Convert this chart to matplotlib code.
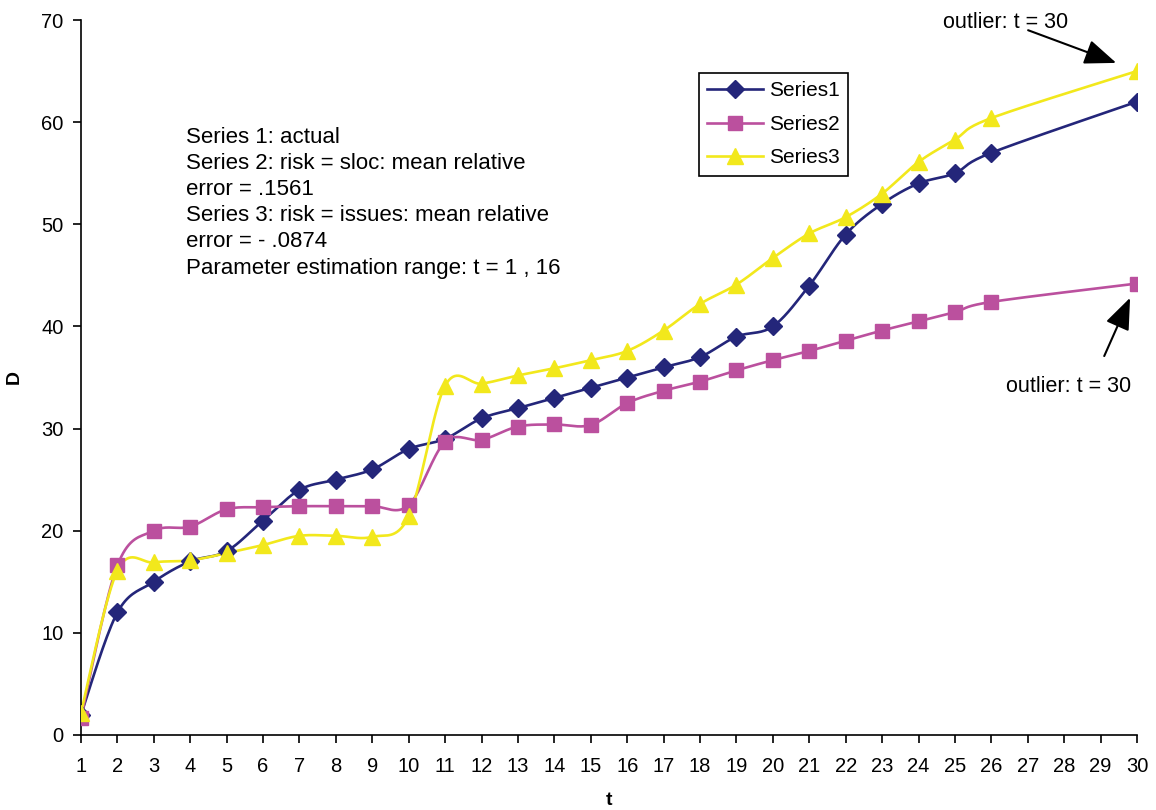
import numpy as np
import matplotlib
matplotlib.use("Agg")
import matplotlib.pyplot as plt

plt.rcParams['font.family'] = ['Liberation Sans', 'DejaVu Sans']

# data (no values at t = 27..29)
t = [1, 2, 3, 4, 5, 6, 7, 8, 9, 10, 11, 12, 13, 14, 15, 16, 17, 18, 19, 20,
     21, 22, 23, 24, 25, 26, 30]
series1 = [2, 12, 15, 17, 18, 21, 24, 25, 26, 28, 29, 31, 32, 33, 34, 35, 36, 37, 39, 40,
           44, 49, 52, 54, 55, 57, 62]
series2 = [1.7, 16.6, 20.0, 20.4, 22.1, 22.3, 22.4, 22.4, 22.4, 22.5, 28.7, 28.9, 30.2, 30.4, 30.35, 32.5,
           33.7, 34.6, 35.7, 36.7, 37.6, 38.6, 39.6, 40.5, 41.4, 42.4, 44.2]
series3 = [2.2, 16.1, 16.9, 17.1, 17.8, 18.6, 19.5, 19.5, 19.4, 21.4, 34.2, 34.4, 35.2, 35.9, 36.7, 37.6,
           39.6, 42.2, 44.1, 46.7, 49.1, 50.7, 53.0, 56.1, 58.3, 60.4, 65.0]
labels = ['Series1', 'Series2', 'Series3']
colors = ['#24267a', '#bb509e', '#f2e81c']
markers = ['D', 's', '^']
msizes = [9, 10, 11]

note = ("Series 1: actual\n"
        "Series 2: risk = sloc: mean relative\n"
        "error = .1561\n"
        "Series 3: risk = issues: mean relative\n"
        "error = - .0874\n"
        "Parameter estimation range: t = 1 , 16")

# pixel aspect of one x unit vs one y unit, so the smoothing looks like Excel's
XS = 36.4 / 10.21


def smooth(x, y, n=20):
    # Catmull-Rom style bezier through the points
    p = np.column_stack([np.asarray(x, float) * XS, np.asarray(y, float)])
    out = []
    for i in range(len(p) - 1):
        p0 = p[i - 1] if i > 0 else p[i]
        p1, p2 = p[i], p[i + 1]
        p3 = p[i + 2] if i + 2 < len(p) else p[i + 1]
        c1 = p1 + (p2 - p0) / 6
        c2 = p2 - (p3 - p1) / 6
        s = np.linspace(0, 1, n)[:, None]
        seg = ((1 - s) ** 3) * p1 + 3 * ((1 - s) ** 2) * s * c1 + 3 * (1 - s) * s ** 2 * c2 + s ** 3 * p2
        out.append(seg)
    out = np.vstack(out)
    return out[:, 0] / XS, out[:, 1]


fig = plt.figure(figsize=(11.56, 8.10), dpi=100)
ax = fig.add_axes([81 / 1156, 75 / 810, (1137 - 81) / 1156, (735 - 20) / 810])

for ys, lab, c, m, ms in zip([series1, series2, series3], labels, colors, markers, msizes):
    sx, sy = smooth(t, ys)
    ax.plot(sx, sy, color=c, lw=1.9, zorder=2)
    ax.plot(t, ys, ls='none', marker=m, ms=ms, color=c, mec=c, zorder=3)
    # legend proxy
    ax.plot([], [], color=c, lw=1.9, marker=m, ms=ms, label=lab)

ax.set_xlim(1, 30)
ax.set_ylim(0, 70)
ax.set_xticks(range(1, 31))
ax.set_yticks(range(0, 71, 10))
ax.spines['top'].set_visible(False)
ax.spines['right'].set_visible(False)
ax.spines['left'].set_linewidth(1.2)
ax.spines['bottom'].set_linewidth(1.2)
ax.tick_params(direction='out', length=5.5, width=1.2, labelsize=14.5)
ax.tick_params(axis='x', pad=10)
ax.tick_params(axis='y', pad=7)
ax.set_xlabel('t', fontsize=14, fontweight='bold', labelpad=12)
ax.set_ylabel('D', fontsize=14, fontweight='bold', labelpad=13)

leg = ax.legend(loc='upper left', bbox_to_anchor=(699 / 1156, 1 - 73 / 810),
                bbox_transform=fig.transFigure, fontsize=15, fancybox=False,
                edgecolor='black', framealpha=1, borderaxespad=0,
                handlelength=2.65, handletextpad=0.3, labelspacing=0.7, borderpad=0.4)
leg.get_frame().set_linewidth(1.2)

fig.text(186 / 1156, 1 - 127 / 810, note, fontsize=16, va='top', ha='left', linespacing=1.32)

arrow = dict(arrowstyle='-|>,head_length=1.4,head_width=0.55', color='black',
             lw=1.5, shrinkA=0, shrinkB=0, mutation_scale=14)
ax.text(26.38, 69.8, 'outlier: t = 30', fontsize=15.5, ha='center', va='center', clip_on=False)
ax.annotate('', xy=(29.43, 65.8), xytext=(27.01, 69.0), annotation_clip=False, arrowprops=arrow)
ax.text(28.13, 34.07, 'outlier: t = 30', fontsize=15.5, ha='center', va='center')
ax.annotate('', xy=(29.81, 42.8), xytext=(29.10, 37.1), annotation_clip=False, arrowprops=arrow)

fig.savefig('out.png', dpi=100)
